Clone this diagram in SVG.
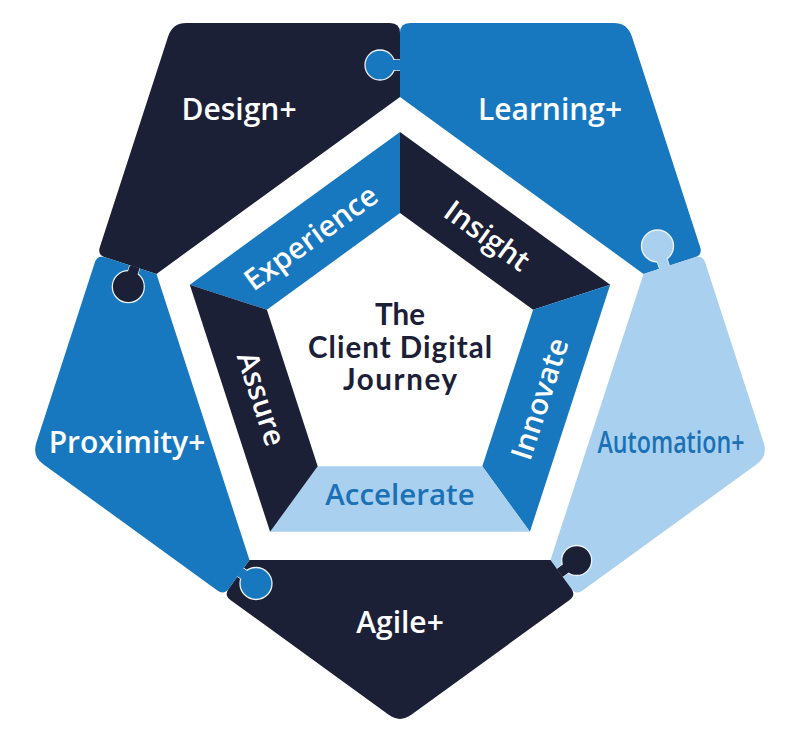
<svg xmlns="http://www.w3.org/2000/svg" width="800" height="732" viewBox="0 0 800 732">
  <style>
    .navy { fill: #1c2037; }
    .blue { fill: #1878bf; }
    .light { fill: #a9d0ef; }
    .tab { stroke: #eef4fa; stroke-width: 1.3; }
    .lbl { font-family: "Open Sans", "Liberation Sans", sans-serif; font-weight: 600; font-size: 30px; text-anchor: middle; }
    .ring { font-size: 29.5px; }
    .ctr { font-family: Lato, "Open Sans", "Liberation Sans", sans-serif; font-weight: 700; font-size: 29.5px; text-anchor: middle; fill: #1c2037; }
    .w { fill: #ffffff; }
    .b { fill: #1b71b6; }
  </style>
  <defs>
    <clipPath id="clipDesign"><path d="M400,97 L400,23 L172.5,23 L97.3,254.8 L156.5,273.9 Z"/></clipPath>
    <clipPath id="clipLearning"><path d="M400,97 L400,23 L627.5,23 L702.7,254.8 L643.5,273.9 Z"/></clipPath>
    <clipPath id="clipAutomation"><path d="M643.5,273.9 L702.7,254.8 L768,456 L576.1,595.2 L550.5,560.1 Z"/></clipPath>
    <clipPath id="clipAgile"><path d="M550.5,560.1 L576.1,595.2 L400,723 L223.9,595.2 L249.5,560.1 Z"/></clipPath>
    <clipPath id="clipProximity"><path d="M249.5,560.1 L223.9,595.2 L32,456 L97.3,254.8 L156.5,273.9 Z"/></clipPath>
  </defs>

  <g id="design">
    <path class="navy" d="M400,97 L400,33 Q400,23 390,23 L186.5,23 Q172.5,23 168.2,36.3 L99.8,247.2 Q97.3,254.8 104.9,257.3 L156.5,273.9 Z"/>
    <text class="lbl w" x="239" y="120">Design+</text>
  </g>

  <g id="learning">
    <path class="blue" d="M400,97 L400,33 Q400,23 410,23 L613.5,23 Q627.5,23 631.8,36.3 L700.2,247.2 Q702.7,254.8 695.1,257.3 L643.5,273.9 Z"/>
    <text class="lbl w" x="550" y="120">Learning+</text>
  </g>

  <g id="automation">
    <path class="light" d="M643.5,273.9 L695.1,257.3 Q702.7,254.8 705.2,262.4 L763.7,442.7 Q768,456 756.7,464.2 L582.6,590.5 Q576.1,595.2 571.4,588.7 L550.5,560.1 Z"/>
    <text class="lbl b" x="671" y="453" textLength="147" lengthAdjust="spacingAndGlyphs">Automation+</text>
  </g>

  <g id="agile">
    <path class="navy" d="M550.5,560.1 L571.4,588.7 Q576.1,595.2 569.6,599.9 L411.3,714.8 Q400,723 388.7,714.8 L230.4,599.9 Q223.9,595.2 228.6,588.7 L249.5,560.1 Z"/>
    <text class="lbl w" x="400" y="633">Agile+</text>
  </g>

  <g id="proximity">
    <path class="blue" d="M249.5,560.1 L228.6,588.7 Q223.9,595.2 217.4,590.5 L43.3,464.2 Q32,456 36.3,442.7 L94.8,262.4 Q97.3,254.8 104.9,257.3 L156.5,273.9 Z"/>
    <text class="lbl w" x="127" y="453">Proximity+</text>
  </g>

  <g id="tab-design" clip-path="url(#clipProximity)">
    <polygon class="navy tab" points="140.8,264.4 131.2,261.4 123.5,285.2 133.1,288.2"/>
    <circle class="navy tab" cx="128.3" cy="286.7" r="16"/>
    <polygon class="navy" points="140.8,264.4 131.2,261.4 123.5,285.2 133.1,288.2"/>
  </g>
  <g id="tab-learning" clip-path="url(#clipDesign)">
    <polygon class="blue tab" points="404,60 404,70 380,70 380,60"/>
    <circle class="blue tab" cx="380" cy="65" r="15"/>
    <polygon class="blue" points="404,60 404,70 380,70 380,60"/>
  </g>
  <g id="tab-automation" clip-path="url(#clipLearning)">
    <polygon class="light tab" points="670.4,269.4 660.8,272.4 652.7,247.5 662.3,244.5"/>
    <circle class="light tab" cx="657.5" cy="246" r="16"/>
    <polygon class="light" points="670.4,269.4 660.8,272.4 652.7,247.5 662.3,244.5"/>
  </g>
  <g id="tab-agile" clip-path="url(#clipAutomation)">
    <polygon class="navy tab" points="559.4,579.2 553.6,571.2 573.8,556.5 579.6,564.5"/>
    <circle class="navy tab" cx="576.7" cy="560.5" r="15"/>
    <polygon class="navy" points="559.4,579.2 553.6,571.2 573.8,556.5 579.6,564.5"/>
  </g>
  <g id="tab-proximity" clip-path="url(#clipAgile)">
    <polygon class="blue tab" points="234.5,574 240.3,566 258.9,579.5 253.1,587.5"/>
    <circle class="blue tab" cx="256" cy="583.5" r="16"/>
    <polygon class="blue" points="234.5,574 240.3,566 258.9,579.5 253.1,587.5"/>
  </g>

  <g id="experience">
    <polygon class="blue" points="189.8,284.7 400,132 400,213 266.9,309.7"/>
    <text class="lbl ring w" transform="translate(311,238) rotate(-36)" x="0" y="10">Experience</text>
  </g>
  <g id="insight">
    <polygon class="navy" points="400,132 610.2,284.7 533.1,309.7 400,213"/>
    <text class="lbl ring w" transform="translate(487,236) rotate(36)" x="0" y="10">Insight</text>
  </g>
  <g id="innovate">
    <polygon class="blue" points="610.2,284.7 529.9,531.8 482.3,466.3 533.1,309.7"/>
    <text class="lbl ring w" transform="translate(540,399) rotate(-72)" x="0" y="10">Innovate</text>
  </g>
  <g id="accelerate">
    <polygon class="light" points="529.9,531.8 270.1,531.8 317.7,466.3 482.3,466.3"/>
    <text class="lbl ring b" x="400" y="505">Accelerate</text>
  </g>
  <g id="assure">
    <polygon class="navy" points="270.1,531.8 189.8,284.7 266.9,309.7 317.7,466.3"/>
    <text class="lbl ring w" transform="translate(261,399) rotate(72)" x="0" y="10">Assure</text>
  </g>

  <g id="center">
    <text class="ctr" x="400" y="325" textLength="50">The</text>
    <text class="ctr" x="400" y="358" textLength="184">Client Digital</text>
    <text class="ctr" x="400" y="390" textLength="114">Journey</text>
  </g>

  <g id="connectors"/>
</svg>
